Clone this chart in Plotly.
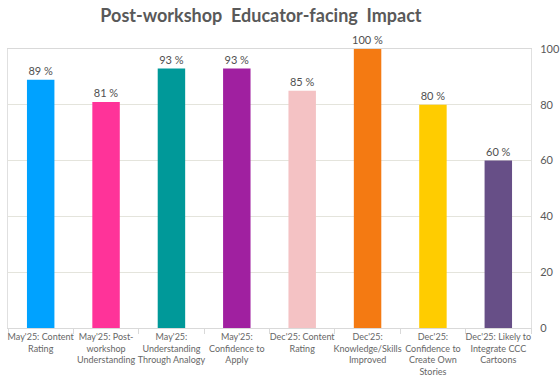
import plotly.graph_objects as go

categories = [
    "May'25: Content<br>Rating",
    "May'25: Post-<br>workshop<br>Understanding",
    "May'25:<br>Understanding<br>Through Analogy",
    "May'25:<br>Confidence to<br>Apply",
    "Dec'25: Content<br>Rating",
    "Dec'25:<br>Knowledge/Skills<br>Improved",
    "Dec'25:<br>Confidence to<br>Create Own<br>Stories",
    "Dec'25: Likely to<br>Integrate CCC<br>Cartoons",
]
values = [89, 81, 93, 93, 85, 100, 80, 60]
colors = ["#00A2FF", "#FF3399", "#009999", "#A020A0", "#F4C2C4", "#F47A12", "#FFCC00", "#674F87"]

fig = go.Figure()
fig.add_trace(go.Bar(
    x=categories, y=values,
    marker=dict(color=colors, line=dict(width=0)),
    width=0.42,
    texttemplate="%{y} %", textposition="outside",
    textfont=dict(family="Lato", size=11, color="#505050"),
    cliponaxis=False, constraintext="none",
))

fig.update_layout(
    width=560, height=384,
    margin=dict(l=8, r=29, t=49, b=56),
    paper_bgcolor="white", plot_bgcolor="white",
    title=dict(text="<b>Post-workshop  Educator-facing  Impact</b>",
               x=0.466, xanchor="center", y=0.958, yanchor="middle",
               font=dict(family="Lato", size=18, color="#595959")),
    showlegend=False,
    bargap=0.5,
)
fig.update_xaxes(
    showline=True, linecolor="#D9D9D9", linewidth=1, mirror=True,
    ticks="outside", tickson="boundaries", ticklen=5, tickcolor="#D9D9D9",
    tickfont=dict(family="Lato", size=9, color="#666666"),
    tickangle=0, automargin=False,
    showgrid=False,
)
fig.update_yaxes(
    side="right", range=[0, 100], dtick=20,
    showgrid=True, gridcolor="#E4E4DC", gridwidth=1,
    showline=True, linecolor="#E0E0E0", mirror=True,
    tickfont=dict(family="Lato", size=11, color="#595959"),
    zeroline=False, ticks="", ticklabelstandoff=6, automargin=False,
)

fig.write_html("out.html")
